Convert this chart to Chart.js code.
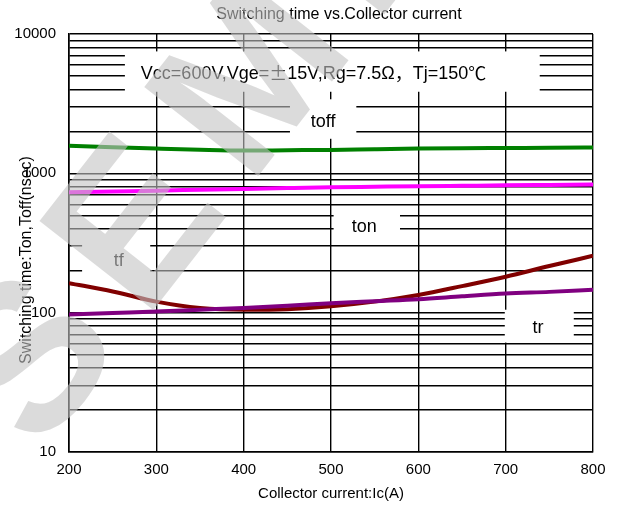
<!DOCTYPE html>
<html>
<head>
<meta charset="utf-8">
<script src="https://cdn.jsdelivr.net/npm/chart.js@4"></script>
<style>
  html, body { margin: 0; padding: 0; background: #fff; }
  #chart { display: block; }
</style>
</head>
<body>
<canvas id="chart" width="620" height="506"></canvas>
<script>
const current = [200, 250, 300, 350, 400, 450, 500, 550, 600, 650, 700, 750, 800];
const toff = [1580, 1540, 1505, 1475, 1456, 1465, 1473, 1490, 1505, 1515, 1520, 1526, 1531];
const ton = [731, 741, 751, 762, 773, 784, 794, 801, 808, 814, 820, 825, 830];
const tf = [163, 142, 120, 108, 105, 106, 111, 120, 134, 155, 181, 216, 256];
const tr = [97, 99.5, 102, 105, 108, 112, 117, 121, 125, 131, 137, 141, 146];

const xTicks = [200, 300, 400, 500, 600, 700, 800];
const decades = [10, 100, 1000, 10000];

const chartTitle = "Switching time vs.Collector current";
const xTitle = "Collector current:Ic(A)";
const yTitle = "Switching time:Ton,Toff(nsec)";
const watermark = "SEMI";

// condition text in pieces; true = full-width cell
const condParts = [
  ["Vcc=600V,Vge=", false],
  ["\u00b1", true],
  ["15V,Rg=7.5\u03a9", false],
  ["\uff0c", true],
  ["Tj=150", false],
  ["\u2103", true],
];

// label boxes: white box [x1,x2] x [y1,y2] in data units, text at (tx, ty)
const notes = [
  { text: null, x1: 264, x2: 739, y1: 7500, y2: 3850, tx: 480, ty: 5200 },
  { text: "toff", x1: 453, x2: 529, y1: 3400, y2: 1770, tx: 491, ty: 2350 },
  { text: "ton", x1: 503, x2: 579, y1: 580, y2: 336, tx: 538, ty: 414 },
  { text: "tf", x1: 215, x2: 293, y1: 347, y2: 165, tx: 257, ty: 236 },
  { text: "tr", x1: 699, x2: 778, y1: 105, y2: 61, tx: 737, ty: 78 },
];

const FONT = "'Liberation Sans', Arial, sans-serif";
const CJK = "'Noto Sans CJK SC', sans-serif";

// all log gridline values 10..10000
const yGrid = [];
decades.slice(0, -1).forEach((d) => {
  for (let k = 1; k < 10; k++) yGrid.push(d * k);
});
yGrid.push(decades[decades.length - 1]);

const toPoints = (ys) => current.map((x, i) => ({ x, y: ys[i] }));

const drawParts = (ctx, parts, cx, cy, size) => {
  const latin = size + "px " + FONT;
  const wide = size + "px " + CJK;
  const widths = parts.map(([t, full]) => {
    ctx.font = full ? wide : latin;
    return full ? size : ctx.measureText(t).width;
  });
  let x = cx - widths.reduce((a, b) => a + b, 0) / 2;
  parts.forEach(([t, full], i) => {
    ctx.font = full ? wide : latin;
    ctx.textAlign = full ? "center" : "left";
    ctx.fillText(t, full ? x + size / 2 : x, cy);
    x += widths[i];
  });
};

const notesPlugin = {
  id: "notes",
  afterDatasetsDraw(chart) {
    const { ctx, scales } = chart;
    const xs = scales.x, ys = scales.y;
    ctx.save();
    notes.forEach((n) => {
      const l = xs.getPixelForValue(n.x1), r = xs.getPixelForValue(n.x2);
      const t = ys.getPixelForValue(n.y1), b = ys.getPixelForValue(n.y2);
      ctx.fillStyle = "#fff";
      ctx.fillRect(l, t, r - l, b - t);
      ctx.fillStyle = "#000";
      ctx.textBaseline = "middle";
      const px = xs.getPixelForValue(n.tx), py = ys.getPixelForValue(n.ty);
      if (n.text === null) {
        drawParts(ctx, condParts, px, py, 18);
      } else {
        ctx.font = "18px " + FONT;
        ctx.textAlign = "center";
        ctx.fillText(n.text, px, py);
      }
    });
    ctx.restore();
  },
  afterDraw(chart) {
    const { ctx, chartArea } = chart;
    ctx.save();
    ctx.fillStyle = "#000";
    ctx.textAlign = "center";
    ctx.textBaseline = "middle";
    ctx.font = "16px " + FONT;
    ctx.fillText(chartTitle, 339, 15);
    ctx.font = "15px " + FONT;
    ctx.fillText(xTitle, (chartArea.left + chartArea.right) / 2, 494);
    ctx.font = "16px " + FONT;
    ctx.translate(27, 260);
    ctx.rotate(-Math.PI / 2);
    ctx.fillText(yTitle, 0, 0);
    ctx.restore();

    // faded watermark
    ctx.save();
    ctx.translate(40, 455);
    ctx.rotate(-52 * Math.PI / 180);
    ctx.font = "bold 210px " + FONT;
    ctx.letterSpacing = "30px";
    ctx.fillStyle = "rgba(195,195,195,0.6)";
    ctx.textAlign = "left";
    ctx.textBaseline = "alphabetic";
    ctx.fillText(watermark, 0, 0);
    ctx.restore();
  },
};

new Chart(document.getElementById("chart"), {
  type: "line",
  data: {
    datasets: [
      { label: "toff", data: toPoints(toff), borderColor: "#008000" },
      { label: "ton", data: toPoints(ton), borderColor: "#ff00ff" },
      { label: "tr", data: toPoints(tr), borderColor: "#800080" },
      { label: "tf", data: toPoints(tf), borderColor: "#800000" },
    ].map((d) => ({
      ...d,
      borderWidth: 4,
      pointRadius: 0,
      fill: false,
      cubicInterpolationMode: "monotone",
    })),
  },
  options: {
    responsive: false,
    animation: false,
    layout: { padding: { left: 0, right: 27, top: 34, bottom: 0 } },
    plugins: { legend: { display: false }, title: { display: false }, tooltip: { enabled: false } },
    scales: {
      x: {
        type: "linear",
        min: 200,
        max: 800,
        afterBuildTicks: (scale) => {
          scale.ticks = xTicks.map((v) => ({ value: v }));
        },
        afterFit: (scale) => {
          scale.height = 54;
        },
        grid: { color: "#000", lineWidth: 1.4, drawTicks: false },
        border: { color: "#000", width: 1.6 },
        ticks: { color: "#000", font: { family: FONT, size: 15 }, padding: 9, maxRotation: 0 },
      },
      y: {
        type: "logarithmic",
        min: 10,
        max: 10000,
        afterBuildTicks: (scale) => {
          scale.ticks = yGrid.map((v) => ({ value: v }));
        },
        afterFit: (scale) => {
          scale.width = 69;
        },
        grid: { color: "#000", lineWidth: 1.4, drawTicks: false },
        border: { color: "#000", width: 1.6 },
        ticks: {
          color: "#000",
          font: { family: FONT, size: 15 },
          padding: 13,
          autoSkip: false,
          callback: (v) => (decades.includes(v) ? String(v) : ""),
        },
      },
    },
  },
  plugins: [notesPlugin],
});
</script>
</body>
</html>
